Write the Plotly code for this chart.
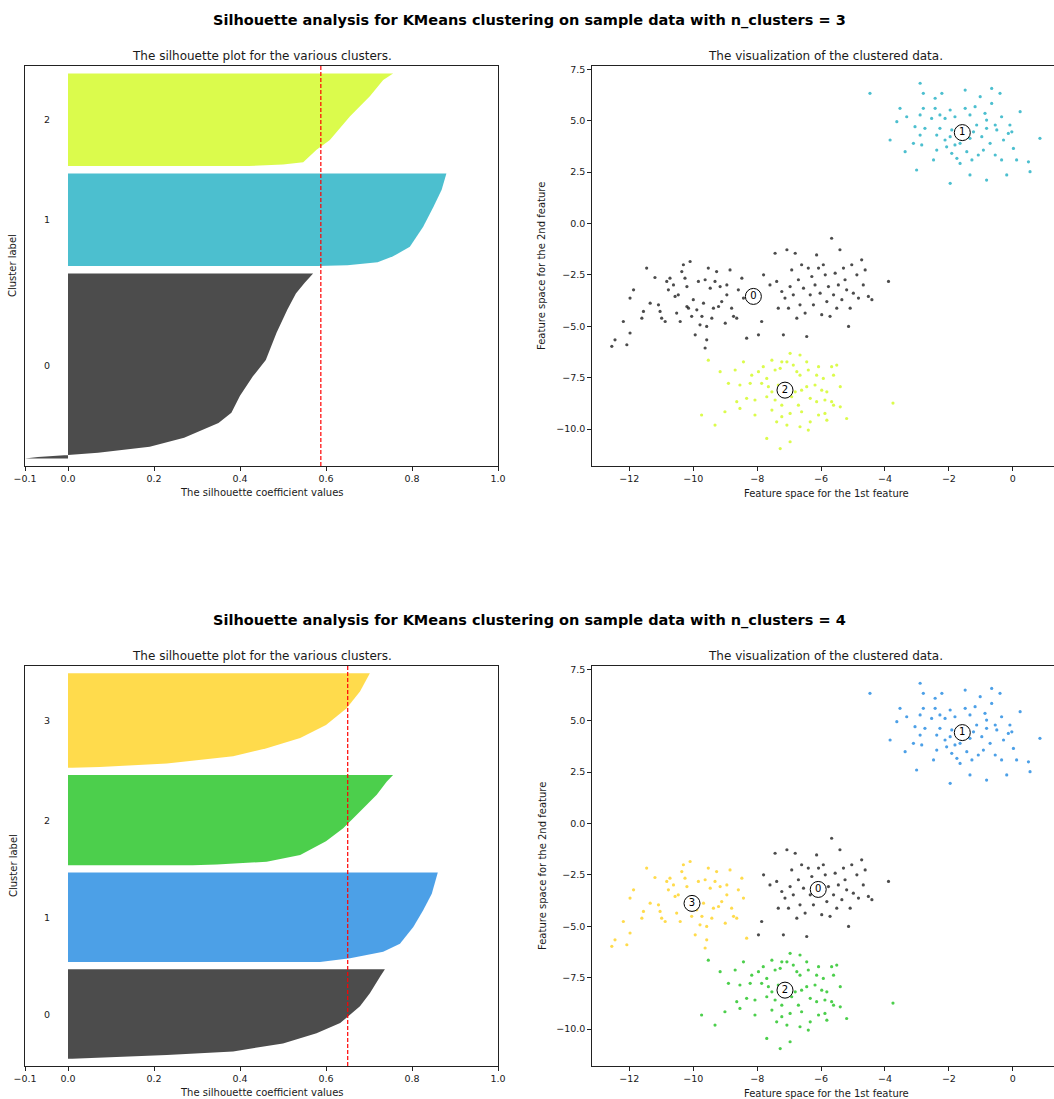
import plotly.graph_objects as go

W, H = 1054, 1099
FONT = "DejaVu Sans"

# ---------------- silhouette data (sorted silhouette values) -------------
sizes_k3 = [250, 125, 125]
sil_k3_rank = [
    [0, 2, 5, 8, 16, 28, 48, 62, 85, 111, 133, 170, 201, 223, 237, 250],
    [0, 1, 5, 13, 26, 53, 80, 103, 125],
    [0, 2, 5, 22, 35, 67, 94, 116, 125],
]
sil_k3_value = [
    [-0.10, -0.07, 0.0, 0.07, 0.19, 0.27, 0.35, 0.38, 0.40, 0.43, 0.46, 0.485, 0.51, 0.53, 0.55, 0.57],
    [0.58, 0.65, 0.72, 0.756, 0.795, 0.826, 0.85, 0.869, 0.88],
    [0.42, 0.50, 0.547, 0.578, 0.609, 0.656, 0.702, 0.733, 0.756],
]
sil_avg_k3 = 0.588

sizes_k4 = [123, 123, 124, 130]
sil_k4_rank = [
    [0, 2, 5, 10, 21, 35, 49, 72, 90, 113, 123],
    [0, 5, 14, 25, 48, 71, 94, 115, 123],
    [0, 1, 5, 14, 33, 51, 65, 83, 97, 115, 124],
    [0, 1, 6, 16, 27, 41, 59, 82, 105, 130],
]
sil_k4_value = [
    [0.01, 0.10, 0.23, 0.384, 0.50, 0.578, 0.633, 0.679, 0.702, 0.726, 0.737],
    [0.586, 0.656, 0.733, 0.772, 0.803, 0.826, 0.846, 0.857, 0.86],
    [0.29, 0.346, 0.462, 0.54, 0.60, 0.64, 0.664, 0.695, 0.718, 0.741, 0.756],
    [0.01, 0.074, 0.23, 0.384, 0.462, 0.54, 0.60, 0.648, 0.679, 0.702],
]
sil_avg_k4 = 0.6505

colors_k3 = ["rgba(0,0,0,0.7)", "rgba(0,164,187,0.7)", "rgba(204,249,0,0.7)"]
colors_k4 = ["rgba(0,0,0,0.7)", "rgba(0,119,221,0.7)", "rgba(0,187,0,0.7)", "rgba(255,204,0,0.7)"]

# ---------------- sample points -------------
blobL_x = [-12.55, -12.08, -12.45, -11.98, -12.19, -11.87, -11.98, -11.46, -11.20, -11.56, -11.61,
           -11.35, -11.09, -11.04, -10.99, -10.88, -10.83, -10.78, -10.73, -10.62, -10.57, -10.52,
           -10.47, -10.41, -10.36, -10.31, -10.26, -10.20, -10.20, -10.15, -10.10, -10.05, -10.00,
           -9.94, -9.89, -9.84, -9.79, -9.73, -9.68, -9.63, -9.58, -9.58, -9.53, -9.47, -9.42,
           -9.37, -9.32, -9.27, -9.21, -9.16, -9.11, -9.00, -8.95, -8.95, -8.85, -8.80, -8.74,
           -8.64, -8.59, -8.48, -8.43, -8.33, -9.63]
blobL_y = [-5.98, -5.90, -5.66, -5.33, -4.77, -3.23, -3.63, -2.17, -2.63, -4.28, -4.61,
           -3.88, -3.96, -4.28, -4.61, -4.77, -2.82, -3.23, -2.66, -2.99, -3.55, -4.36,
           -3.47, -4.77, -2.34, -2.01, -2.66, -3.07, -4.04, -4.12, -1.85, -4.52, -3.71,
           -5.42, -4.20, -2.82, -4.93, -4.52, -3.88, -2.74, -5.01, -5.66, -2.17, -3.15, -4.61,
           -4.12, -2.82, -2.34, -4.04, -3.07, -3.80, -4.85, -2.99, -3.47, -2.26, -4.12, -4.52,
           -4.61, -3.23, -2.66, -3.63, -5.58, -6.06]

blobM_x = [-7.96, -7.86, -7.80, -7.60, -7.44, -7.39, -7.34, -7.23, -7.18, -7.13, -7.07, -7.02,
           -6.97, -6.92, -6.87, -6.81, -6.76, -6.71, -6.66, -6.61, -6.55, -6.50, -6.45, -6.40,
           -6.34, -6.29, -6.24, -6.19, -6.14, -6.08, -6.03, -5.98, -5.93, -5.87, -5.82, -5.77,
           -5.72, -5.67, -5.61, -5.56, -5.51, -5.46, -5.41, -5.35, -5.30, -5.25, -5.20, -5.14,
           -5.09, -5.04, -4.99, -4.88, -4.83, -4.73, -4.68, -4.62, -4.52, -4.41, -3.89]
blobM_y = [-5.42, -4.77, -2.50, -2.99, -1.45, -2.82, -4.12, -3.31, -5.42, -3.63, -1.28, -4.12,
           -3.07, -2.26, -3.47, -1.45, -4.61, -2.74, -3.96, -2.01, -3.15, -4.36, -5.50, -2.17,
           -3.47, -2.58, -3.96, -2.99, -1.53, -2.17, -3.39, -4.44, -2.01, -2.50, -3.80, -3.07,
           -4.52, -0.72, -3.47, -2.42, -4.12, -2.99, -1.28, -3.71, -2.17, -2.74, -3.23, -5.01,
           -4.12, -2.01, -3.39, -2.50, -3.63, -1.77, -2.99, -2.26, -3.55, -3.71, -2.82]

blobT_x = [-4.47, -2.90, -2.80, -2.43, -2.22, -1.49, -1.02, -0.66, -0.40, -0.66, -3.53, -3.32,
           -2.90, -2.80, -2.54, -2.43, -2.28, -2.12, -1.96, -1.81, -1.49, -1.34, -1.18, -0.87,
           -0.82, -0.55, -0.35, -0.09, 0.23, -0.03, -3.06, -2.90, -2.75, -2.38, -2.28, -2.12,
           -1.96, -1.91, -1.81, -1.65, -1.34, -1.23, -1.13, -0.97, -0.82, -0.71, -0.50, -0.29,
           -0.14, 0.02, 0.85, -3.11, -2.85, -2.38, -2.07, -1.91, -1.75, -1.65, -1.44, -1.28,
           -1.08, -0.92, -0.55, -0.35, 0.12, 0.49, 0.54, -3.37, -3.01, -2.48, -1.96, -1.34,
           -0.82, -0.19, -3.84, -3.63]
blobT_y = [6.33, 6.82, 6.33, 6.09, 6.33, 6.49, 6.17, 6.57, 6.33, 5.84, 5.60, 5.19,
           5.28, 5.60, 5.11, 5.60, 5.28, 5.11, 5.52, 5.19, 5.60, 5.28, 5.68, 5.36,
           5.03, 4.79, 5.19, 4.79, 5.44, 4.46, 4.71, 4.30, 4.63, 4.30, 4.63, 4.06,
           4.22, 4.55, 3.82, 3.90, 4.14, 4.46, 4.79, 4.22, 4.63, 3.90, 4.55, 4.06,
           4.38, 3.65, 4.14, 3.90, 3.82, 3.57, 3.73, 3.41, 3.17, 2.92, 3.49, 3.09,
           3.33, 3.57, 3.33, 3.09, 3.09, 3.00, 2.52, 3.49, 2.60, 3.09, 1.95, 2.36,
           2.11, 2.36, 4.06, 4.95]

blobB_x = [-6.97, -6.66, -7.54, -7.23, -7.07, -6.87, -6.45, -6.08, -5.67, -5.51, -8.43, -8.69,
           -9.16, -8.17, -7.96, -7.70, -7.44, -7.28, -6.76, -6.66, -6.40, -6.14, -5.93, -5.61,
           -8.90, -8.54, -8.22, -7.86, -7.65, -7.54, -7.34, -6.81, -6.61, -6.45, -6.19, -5.98,
           -5.82, -5.40, -8.64, -8.33, -8.07, -7.70, -7.44, -7.23, -6.92, -6.71, -6.34, -6.14,
           -5.88, -5.67, -5.40, -9.01, -8.54, -7.54, -7.23, -6.97, -6.61, -6.34, -6.08, -5.88,
           -5.82, -5.20, -9.32, -7.70, -6.97, -7.28, -6.40, -9.53, -9.74, -8.07, -7.39, -7.07,
           -6.66, -5.61, -7.81, -3.75]
blobB_y = [-6.32, -6.40, -6.65, -6.73, -6.73, -6.89, -6.73, -6.97, -6.97, -6.89, -6.73, -7.13,
           -7.21, -7.38, -7.21, -7.54, -7.13, -7.05, -7.21, -7.38, -7.13, -7.38, -7.54, -7.38,
           -7.78, -7.86, -7.78, -7.78, -7.94, -8.19, -7.86, -8.19, -8.11, -7.94, -7.86, -8.11,
           -8.19, -7.94, -8.67, -8.51, -8.59, -8.43, -8.59, -8.84, -8.43, -8.84, -8.51, -8.67,
           -8.59, -8.67, -8.92, -9.16, -9.00, -9.08, -9.40, -9.24, -9.16, -9.65, -9.32, -9.24,
           -9.57, -9.49, -9.81, -10.46, -10.62, -10.95, -10.05, -6.65, -9.32, -9.32, -9.65, -9.81,
           -9.89, -8.84, -6.97, -8.74]

blobs_x = [blobL_x, blobM_x, blobT_x, blobB_x]
blobs_y = [blobL_y, blobM_y, blobT_y, blobB_y]
labels_k3 = [0, 0, 1, 2]   # cluster of each blob for n_clusters = 3
labels_k4 = [3, 0, 1, 2]   # cluster of each blob for n_clusters = 4

centers_k3_x = [-8.12, -1.58, -7.13]
centers_k3_y = [-3.55, 4.42, -8.11]
centers_k4_x = [-6.09, -1.58, -7.13, -10.04]
centers_k4_y = [-3.21, 4.42, -8.11, -3.89]

sil_xticks = [-0.1, 0.0, 0.2, 0.4, 0.6, 0.8, 1.0]
sil_xticktext = ["\u22120.1", "0.0", "0.2", "0.4", "0.6", "0.8", "1.0"]
sc_xticks = [-12, -10, -8, -6, -4, -2, 0]
sc_xticktext = ["\u221212", "\u221210", "\u22128", "\u22126", "\u22124", "\u22122", "0"]
sc_yticks = [-10.0, -7.5, -5.0, -2.5, 0.0, 2.5, 5.0, 7.5]
sc_yticktext = ["\u221210.0", "\u22127.5", "\u22125.0", "\u22122.5", "0.0", "2.5", "5.0", "7.5"]

suptitles = ["Silhouette analysis for KMeans clustering on sample data with n_clusters = 3",
             "Silhouette analysis for KMeans clustering on sample data with n_clusters = 4"]

fig = go.Figure()

def px(p):
    return p / W

def py(p):
    return 1 - p / H

rows = [
    dict(sizes=sizes_k3, ranks=sil_k3_rank, vals=sil_k3_value, avg=sil_avg_k3, colors=colors_k3,
         labels=labels_k3, cx=centers_k3_x, cy=centers_k3_y, ymax=540, top=66, ax_l="", ax_r="2"),
    dict(sizes=sizes_k4, ranks=sil_k4_rank, vals=sil_k4_value, avg=sil_avg_k4, colors=colors_k4,
         labels=labels_k4, cx=centers_k4_x, cy=centers_k4_y, ymax=550, top=666, ax_l="3", ax_r="4"),
]

TXT = "#1a1a1a"
annotations = []
shapes = []
tickfont = dict(family=FONT, size=9.5, color=TXT)
axline = dict(showline=True, linecolor="#222", linewidth=1, showgrid=False, zeroline=False,
              ticks="outside", ticklen=3.5, tickwidth=0.8, tickcolor="#222", tickfont=tickfont,
              automargin=False)

for ri, r in enumerate(rows):
    xl, yl = "x" + r["ax_l"], "y" + r["ax_l"]
    xr, yr = "x" + r["ax_r"], "y" + r["ax_r"]
    top = r["top"]
    bottom = top + 400
    # silhouette fills
    y_lower = 10
    for i, size in enumerate(r["sizes"]):
        ys = [y_lower + k for k in r["ranks"][i]]
        fig.add_trace(go.Scatter(x=r["vals"][i], y=ys, mode="lines", fill="tozerox",
                                 fillcolor=r["colors"][i], line=dict(width=0, color=r["colors"][i]),
                                 xaxis=xl, yaxis=yl, hoverinfo="skip"))
        annotations.append(dict(x=-0.05, y=y_lower + 0.5 * size, xref=xl, yref=yl, text=str(i),
                                showarrow=False, font=dict(family=FONT, size=9.5, color=TXT)))
        y_lower += size + 10
    shapes.append(dict(type="line", xref=xl, yref=yl + " domain", x0=r["avg"], x1=r["avg"], y0=0, y1=1,
                       line=dict(color="red", width=1.2, dash="4px,2px")))
    # scatter of clustered data
    n_cl = len(r["colors"])
    for c in range(n_cl):
        xs, ys = [], []
        for b, lab in enumerate(r["labels"]):
            if lab == c:
                xs += blobs_x[b]
                ys += blobs_y[b]
        fig.add_trace(go.Scatter(x=xs, y=ys, mode="markers", xaxis=xr, yaxis=yr,
                                 marker=dict(size=3.2, color=r["colors"][c], line=dict(width=0)),
                                 hoverinfo="skip"))
    fig.add_trace(go.Scatter(x=r["cx"], y=r["cy"], mode="markers+text", xaxis=xr, yaxis=yr,
                             text=[str(i) for i in range(n_cl)], textposition="middle center",
                             textfont=dict(family=FONT, size=10, color="black"),
                             marker=dict(size=16, color="white", line=dict(width=1, color="black")),
                             hoverinfo="skip"))
    # axes
    dom_y = [py(bottom), py(top)]
    fig.update_layout(**{
        "xaxis" + r["ax_l"]: dict(domain=[px(25), px(498)], anchor=yl, range=[-0.1, 1.0],
                                  tickvals=sil_xticks, ticktext=sil_xticktext, mirror=True, **axline),
        "yaxis" + r["ax_l"]: dict(domain=dom_y, anchor=xl, range=[0, r["ymax"]], showticklabels=False,
                                  showline=True, linecolor="#222", linewidth=1, mirror=True,
                                  showgrid=False, zeroline=False, ticks="", automargin=False),
        "xaxis" + r["ax_r"]: dict(domain=[px(591.7), 1.0], anchor=yr, range=[-13.18, 1.29],
                                  tickvals=sc_xticks, ticktext=sc_xticktext, mirror=True, **axline),
        "yaxis" + r["ax_r"]: dict(domain=dom_y, anchor=xr, range=[-11.8, 7.66],
                                  tickvals=sc_yticks, ticktext=sc_yticktext, mirror=False, **axline),
    })
    off = 600 * ri
    annotations += [
        dict(x=px(529), y=py(20 + off), text="<b>" + suptitles[ri] + "</b>",
             font=dict(family=FONT, size=14.5, color="black")),
        dict(x=px(261.5), y=py(56 + off), text="The silhouette plot for the various clusters.",
             font=dict(family=FONT, size=12, color=TXT)),
        dict(x=px(825), y=py(56 + off), text="The visualization of the clustered data.",
             font=dict(family=FONT, size=12, color=TXT)),
        dict(x=px(261.5), y=py(492 + off), text="The silhouette coefficient values",
             font=dict(family=FONT, size=10, color=TXT)),
        dict(x=px(826), y=py(493 + off), text="Feature space for the 1st feature",
             font=dict(family=FONT, size=10, color=TXT)),
        dict(x=px(13), y=py(266 + off), text="Cluster label", textangle=-90,
             font=dict(family=FONT, size=10, color=TXT)),
        dict(x=px(542), y=py(266 + off), text="Feature space for the 2nd feature", textangle=-90,
             font=dict(family=FONT, size=10, color=TXT)),
    ]

for a in annotations:
    a.setdefault("xref", "paper")
    a.setdefault("yref", "paper")
    a.setdefault("showarrow", False)
    a.setdefault("xanchor", "center")
    a.setdefault("yanchor", "middle")

fig.update_layout(width=W, height=H, margin=dict(l=0, r=0, t=0, b=0, pad=0, autoexpand=False),
                  paper_bgcolor="white", plot_bgcolor="white", showlegend=False,
                  annotations=annotations, shapes=shapes, font=dict(family=FONT))

fig.write_html("out.html", config=dict(responsive=False, displayModeBar=False),
               post_script="document.body.style.margin='0px';"
                           "document.body.style.overflow='hidden';"
                           "document.documentElement.style.overflow='hidden';")
